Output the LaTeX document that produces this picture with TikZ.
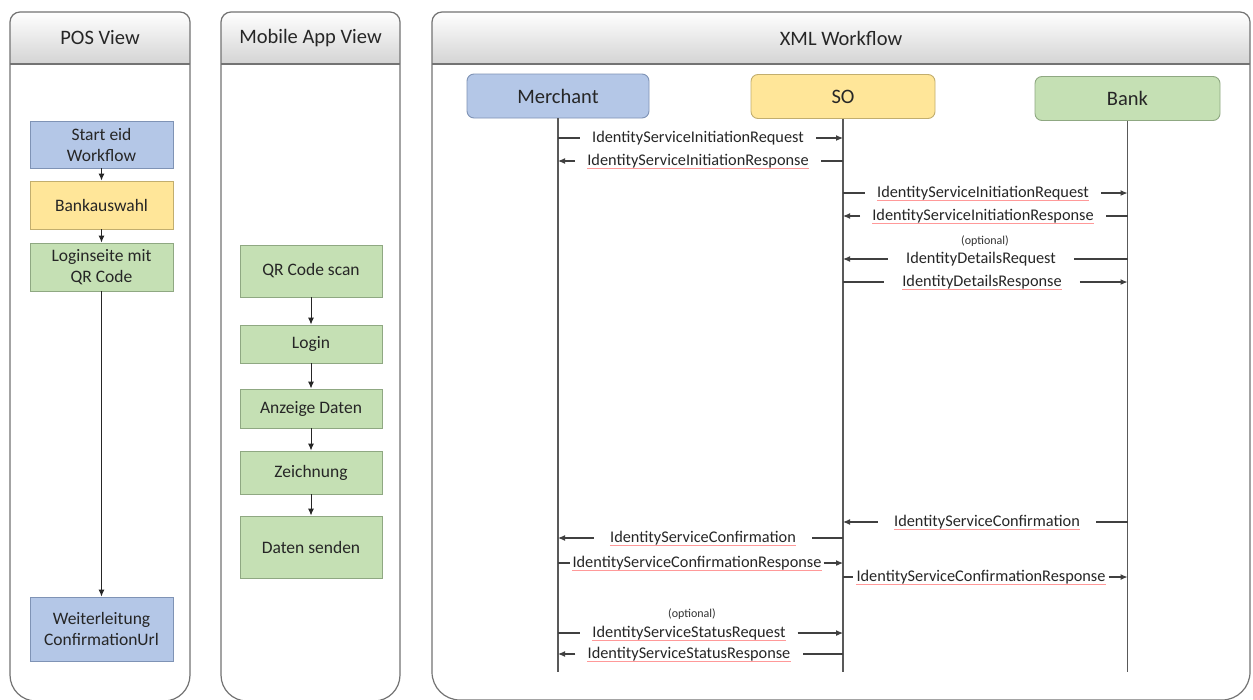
\documentclass[tikz,border=0pt]{standalone}
\usepackage{fontspec}
\setmainfont{Carlito}
\usetikzlibrary{arrows.meta,positioning}
\definecolor{bluef}{HTML}{B4C7E7}
\definecolor{blued}{HTML}{7F93B5}
\definecolor{yelf}{HTML}{FFE699}
\definecolor{yeld}{HTML}{C2AE6E}
\definecolor{grnf}{HTML}{C5E0B4}
\definecolor{grnd}{HTML}{8FA882}
\tikzset{
  panel/.style={draw=black!55, line width=1.2pt},
  head/.style={top color=white, bottom color=black!17},
  title/.style={font=\fontsize{20.5}{24}\selectfont, text=black!85},
  box/.style={draw, line width=0.9pt, minimum width=143pt, align=center,
    font=\fontsize{17.5}{21}\selectfont, text=black!85, inner sep=2pt},
  bbox/.style={box, fill=bluef, draw=blued},
  ybox/.style={box, fill=yelf, draw=yeld},
  gbox/.style={box, fill=grnf, draw=grnd},
  part/.style={rounded corners=7pt, line width=0.9pt, minimum height=44pt,
    font=\fontsize{20.5}{24}\selectfont, text=black!85},
  msg/.style={font=\fontsize{16.3}{19}\selectfont, inner xsep=12pt, inner ysep=1pt, text=black!85},
  opt/.style={font=\fontsize{12}{14}\selectfont, text=black!80, inner sep=0pt},
  flow/.style={-{Latex[length=7pt,width=6pt]}, line width=1pt, draw=black!85},
  life/.style={draw=black!65, line width=1.2pt},
  mline/.style={draw=black!75, line width=1.1pt},
  arr/.style={-{Latex[length=7pt,width=6pt]}},
  spell/.style={draw=red!40, line width=0.6pt},
  sq/.style={append after command={\pgfextra{\let\lastn\tikzlastnode}
     ([xshift=#1pt,yshift=1pt]\lastn.south west) edge[spell] ([xshift=-#1pt,yshift=1pt]\lastn.south east)}},
  sq/.default=12
}
\begin{document}
\begin{tikzpicture}[x=1pt,y=-1pt]
\useasboundingbox (0,0) rectangle (1253,699);
\fill[white] (0,0) rectangle (1253,699);

% ---------- panels ----------
% POS
\shade[head] (10,64) [rounded corners=10pt] -- (10,12) -- (190,12) [sharp corners] -- (190,64) -- cycle;
\draw[panel] (10,300) [rounded corners=10pt] -- (10,12) -- (190,12) -- (190,300) [rounded corners=26pt] -- (190,701) -- (10,701) -- (10,300);
\draw[panel] (10,64) -- (190,64);
\node[title] (t1) at (100,38) {POS View};
% Mobile
\shade[head] (221,64) [rounded corners=10pt] -- (221,12) -- (400,12) [sharp corners] -- (400,64) -- cycle;
\draw[panel] (221,300) [rounded corners=10pt] -- (221,12) -- (400,12) -- (400,300) [rounded corners=26pt] -- (400,701) -- (221,701) -- (221,300);
\draw[panel] (221,64) -- (400,64);
\node[title] (t2) at (310.5,38) {Mobile App View};
% XML
\shade[head] (432,64) [rounded corners=10pt] -- (432,12) -- (1250,12) [sharp corners] -- (1250,64) -- cycle;
\draw[panel] (432,300) [rounded corners=10pt] -- (432,12) -- (1250,12) -- (1250,300) [rounded corners=28pt] -- (1250,700) -- (432,700) -- (432,300);
\draw[panel] (432,64) -- (1250,64);
\node[title] (t3) at (841,38) {XML Workflow};

% ---------- POS flow ----------
\node[bbox, minimum height=47pt] (start) at (101.5,144.5) {Start eid\\Workflow};
\node[ybox, minimum height=48pt] (bwahl) at (101.5,205) {Bankauswahl};
\node[gbox, minimum height=48pt] (lseite) at (101.5,267) {Loginseite mit\\QR Code};
\node[bbox, minimum height=64pt] (weiter) at (101.5,629) {Weiterleitung\\ConfirmationUrl};
\draw[flow] (start) -- (bwahl);
\draw[flow] (bwahl) -- (lseite);
\draw[flow] (lseite) -- (weiter);

% ---------- Mobile flow ----------
\node[gbox, minimum width=142pt, minimum height=52pt] (qr) at (311,271) {QR Code scan};
\node[gbox, minimum width=142pt, minimum height=38pt] (mlog) at (311,344) {Login};
\node[gbox, minimum width=142pt, minimum height=39pt] (anz) at (311,408.5) {Anzeige Daten};
\node[gbox, minimum width=142pt, minimum height=43pt] (zei) at (311,472.5) {Zeichnung};
\node[gbox, minimum width=142pt, minimum height=62pt] (send) at (311,547) {Daten senden};
\draw[flow] (qr) -- (mlog);
\draw[flow] (mlog) -- (anz);
\draw[flow] (anz) -- (zei);
\draw[flow] (zei) -- (send);

% ---------- participants ----------
\node[part, fill=bluef, draw=blued, minimum width=182pt] (merchant) at (558,96) {Merchant};
\node[part, fill=yelf, draw=yeld, minimum width=184pt] (so) at (843,96.5) {SO};
\node[part, fill=grnf, draw=grnd, minimum width=185pt] (bank) at (1127.5,98.5) {Bank};
\coordinate (mend) at (558,672);
\coordinate (send2) at (843,672);
\coordinate (bend) at (1127.5,672);
\draw[life] (merchant) -- (mend);
\draw[life] (so) -- (send2);
\draw[life] (bank) -- (bend);

% ---------- messages ----------
\node[msg] (l1) at (698,138) {IdentityServiceInitiationRequest};
\draw[mline] (merchant |- l1) -- (l1.west);
\draw[mline,arr] (l1.east) -- (so |- l1);

\node[msg,sq] (l2) at (698,161) {IdentityServiceInitiationResponse};
\draw[mline] (so |- l2) -- (l2.east);
\draw[mline,arr] (l2.west) -- (merchant |- l2);

\node[msg,sq] (l3) at (983,193) {IdentityServiceInitiationRequest};
\draw[mline] (so |- l3) -- (l3.west);
\draw[mline,arr] (l3.east) -- (bank |- l3);

\node[msg,sq] (l4) at (983,216) {IdentityServiceInitiationResponse};
\draw[mline] (bank |- l4) -- (l4.east);
\draw[mline,arr] (l4.west) -- (so |- l4);

\node[opt] (o5) at (985,241) {(optional)};
\node[msg,inner xsep=18pt] (l5) at (981,259) {IdentityDetailsRequest};
\draw[mline] (bank |- l5) -- (l5.east);
\draw[mline,arr] (l5.west) -- (so |- l5);

\node[msg,sq=18,inner xsep=18pt] (l6) at (982,282) {IdentityDetailsResponse};
\draw[mline] (so |- l6) -- (l6.west);
\draw[mline,arr] (l6.east) -- (bank |- l6);

\node[msg,sq=16,inner xsep=16pt] (l7) at (987,522) {IdentityServiceConfirmation};
\draw[mline] (bank |- l7) -- (l7.east);
\draw[mline,arr] (l7.west) -- (so |- l7);

\node[msg,sq=16,inner xsep=16pt] (l8) at (703,538) {IdentityServiceConfirmation};
\draw[mline] (so |- l8) -- (l8.east);
\draw[mline,arr] (l8.west) -- (merchant |- l8);

\node[msg,sq=2,inner xsep=2pt] (l9) at (697,563) {IdentityServiceConfirmationResponse};
\draw[mline] (merchant |- l9) -- (l9.west);
\draw[mline,arr] (l9.east) -- (so |- l9);

\node[msg,sq=3,inner xsep=3pt] (l10) at (981,577) {IdentityServiceConfirmationResponse};
\draw[mline] (so |- l10) -- (l10.west);
\draw[mline,arr] (l10.east) -- (bank |- l10);

\node[opt] (o11) at (692,614) {(optional)};
\node[msg,sq=12] (l11) at (689,633) {IdentityServiceStatusRequest};
\draw[mline] (merchant |- l11) -- (l11.west);
\draw[mline,arr] (l11.east) -- (so |- l11);

\node[msg,sq=12] (l12) at (689,654) {IdentityServiceStatusResponse};
\draw[mline] (so |- l12) -- (l12.east);
\draw[mline,arr] (l12.west) -- (merchant |- l12);
\end{tikzpicture}
\end{document}
